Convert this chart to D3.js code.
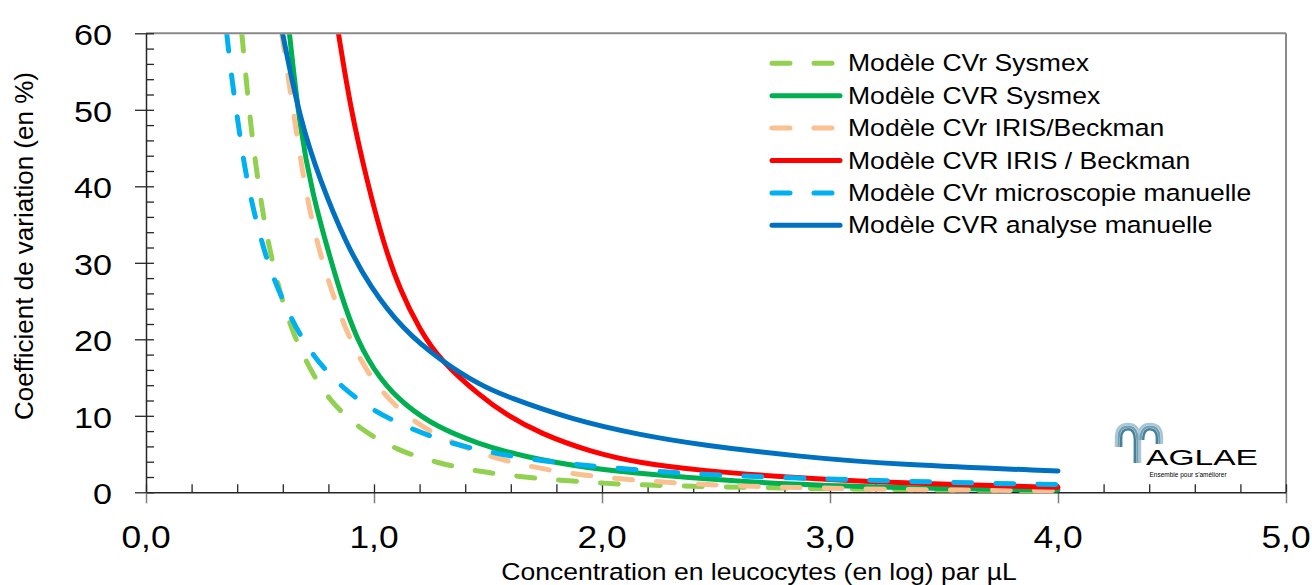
<!DOCTYPE html>
<html>
<head>
<meta charset="utf-8">
<script src="https://cdn.jsdelivr.net/npm/d3@7"></script>
<style>
  body { margin: 0; background: #fff; }
  text { font-family: "Liberation Sans", Arial, sans-serif; fill: #000; }
</style>
</head>
<body>
<div id="chart"></div>
<script>
// Chart size
const width = 1312;
const height = 585;

// Values: [log concentration, CV %]
const cvrSysmex = [[0.42,60],[0.439,54.1],[0.458,48.4],[0.481,42.9],[0.507,37.5],[0.539,32.1],[0.588,26],[0.639,21.2],[0.712,16.4],[0.807,11.8],[0.946,8.1],[1.10,5.5],[1.282,3.8],[1.457,2.7],[1.64,2.04],[1.822,1.57],[2.005,1.17],[2.188,0.95],[2.5,0.7],[3.0,0.45],[3.5,0.3],[4.0,0.2]];
const cvRSysmex = [[0.629,60],[0.675,47.4],[0.734,38.6],[0.792,32.3],[0.851,26.2],[0.924,19.9],[1.026,14.7],[1.143,11.2],[1.274,8.6],[1.45,6.4],[1.655,4.65],[1.947,3.1],[2.24,2.26],[2.518,1.6],[2.8,1.1],[3.16,0.7],[3.6,0.45],[4.0,0.3]];
const cvrIris = [[0.595,60],[0.62,55],[0.643,50.4],[0.670,45.0],[0.700,39.6],[0.737,34.2],[0.785,29.0],[0.844,23.7],[0.915,18.6],[1.009,13.9],[1.136,10.0],[1.282,7.3],[1.457,5.1],[1.64,3.65],[1.822,2.6],[2.005,1.95],[2.188,1.48],[2.371,1.17],[2.56,0.85],[3.0,0.5],[3.5,0.3],[4.0,0.2]];
const cvRIris = [[0.844,60],[0.895,50.5],[0.968,40.8],[1.041,32.6],[1.114,26.4],[1.202,21.2],[1.289,17.3],[1.465,12.6],[1.582,10.1],[1.728,7.7],[1.947,5.3],[2.167,3.8],[2.43,2.85],[2.8,2.0],[3.16,1.4],[3.6,0.95],[4.0,0.65]];
const cvrMicro = [[0.354,60],[0.376,54.1],[0.402,48.7],[0.428,43.2],[0.464,37.8],[0.504,33.1],[0.544,29.1],[0.624,23.4],[0.712,18.6],[0.829,14.5],[0.975,11.0],[1.136,8.6],[1.311,6.6],[1.494,5.3],[1.677,4.35],[1.86,3.7],[2.04,3.2],[2.225,2.75],[2.408,2.4],[2.8,1.9],[3.15,1.6],[3.5,1.3],[4.0,1.0]];
const cvRManuel = [[0.599,60],[0.675,48.7],[0.763,40.8],[0.876,32.6],[0.982,26.9],[1.129,21.2],[1.289,17.3],[1.465,14.0],[1.582,12.5],[1.874,9.45],[2.167,7.5],[2.43,6.2],[2.868,4.65],[3.307,3.57],[4.0,2.8]];

const seriesNames = [
  "Modèle CVr Sysmex",
  "Modèle CVR Sysmex",
  "Modèle CVr IRIS/Beckman",
  "Modèle CVR IRIS / Beckman",
  "Modèle CVr microscopie manuelle",
  "Modèle CVR analyse manuelle"
];
const seriesData = [cvrSysmex, cvRSysmex, cvrIris, cvRIris, cvrMicro, cvRManuel];

// Tick values
const xTicks = [0, 1, 2, 3, 4, 5];
const yTicks = [0, 10, 20, 30, 40, 50, 60];

// Styles
const colors = ["#92D050", "#00B050", "#FAC090", "#FF0000", "#00B0F0", "#0070C0"];
const dashed = [true, false, true, false, true, false];
const stretch = 1.14;

const x0 = 146, x1 = 1286, yTop = 33.3, yBottom = 492.3;

const svg = d3.select("#chart")
  .append("svg")
  .attr("width", width)
  .attr("height", height)
  .style("background", "#fff");

const x = d3.scaleLinear().domain([0, 5]).range([x0, x1]);
const y = d3.scaleLinear().domain([0, 60]).range([yBottom, yTop]);

// Stretched text helper (the source text is wider than the font)
function label(g, px, py, str, size, anchor) {
  return g.append("g")
    .attr("transform", `translate(${px},${py}) scale(${stretch},1)`)
    .append("text")
    .attr("font-size", size)
    .attr("text-anchor", anchor)
    .text(str);
}

// Border on top and right
svg.append("line").attr("x1", x0).attr("x2", x1).attr("y1", yTop).attr("y2", yTop)
  .attr("stroke", "#8a8a8a").attr("stroke-width", 2);
svg.append("line").attr("x1", x1).attr("x2", x1).attr("y1", yTop).attr("y2", yBottom)
  .attr("stroke", "#8a8a8a").attr("stroke-width", 2);

// Y axis: major ticks outside, minor inside
const yMajor = svg.append("g").attr("transform", `translate(${x0},0)`)
  .call(d3.axisLeft(y).tickValues(yTicks).tickSize(11).tickSizeOuter(0).tickFormat(""));
const yMinor = svg.append("g").attr("transform", `translate(${x0},0)`)
  .call(d3.axisRight(y).tickValues(d3.range(0, 61, 2)).tickSize(8).tickSizeOuter(0).tickFormat(""));
yMinor.select(".domain").remove();

// X axis: major ticks below, minor above
const xMajor = svg.append("g").attr("transform", `translate(0,${yBottom})`)
  .call(d3.axisBottom(x).tickValues(xTicks).tickSize(11).tickSizeOuter(0).tickFormat(""));
xMajor.select(".domain").remove();
xMajor.selectAll(".tick line").attr("stroke", "#7f7f7f").attr("stroke-width", 1.5);
const xMinor = svg.append("g").attr("transform", `translate(0,${yBottom})`)
  .call(d3.axisTop(x).tickValues(d3.range(0, 5.01, 0.2)).tickSize(8).tickSizeOuter(0).tickFormat(""));

[yMajor, yMinor, xMinor].forEach(g => g.selectAll(".tick line").attr("stroke", "#262626").attr("stroke-width", 1.3));
yMajor.select(".domain").attr("stroke", "#262626").attr("stroke-width", 1.5);
xMinor.select(".domain").attr("stroke", "#262626").attr("stroke-width", 1.5);

// Tick labels
const labels = svg.append("g");
yTicks.forEach(v => label(labels, 112, y(v) + 12, String(v), 30, "end"));
xTicks.forEach(v => label(labels, x(v), 548, d3.format(".1f")(v).replace(".", ","), 31, "middle"));

// Axis titles
label(labels, 759, 580, "Concentration en leucocytes (en log) par µL", 23.3, "middle");
svg.append("text")
  .attr("transform", `translate(33,246) rotate(-90)`)
  .attr("font-size", 26)
  .attr("text-anchor", "middle")
  .text("Coefficient de variation (en %)");

// Logo (arches + name)
const logo = svg.append("g");
["#a9c6d3", "#6f9fb5", "#46819b"].forEach((c, i) => {
  const o = i * 2.6;
  logo.append("path")
    .attr("d", `M${1116 + o},447 L${1116 + o},438 Q${1116 + o},${424 + o} 1128,${424 + o} Q${1140 - o},${424 + o} ${1140 - o},440 L${1140 - o},463 M${1138 + o},440 Q${1138 + o},${424 + o} 1150,${424 + o} Q${1162 - o},${424 + o} ${1162 - o},438 L${1162 - o},444`)
    .attr("fill", "none").attr("stroke", c).attr("stroke-width", 2.4);
});
logo.append("text")
  .attr("x", 1146).attr("y", 465)
  .attr("font-size", 22)
  .attr("textLength", 112)
  .attr("lengthAdjust", "spacingAndGlyphs")
  .attr("fill", "#45545f")
  .text("AGLAE");
logo.append("text").attr("x", 1188).attr("y", 477).attr("font-size", 6.5)
  .attr("text-anchor", "middle").attr("fill", "#333").text("Ensemble pour s'améliorer");

// Clip for the curves
svg.append("clipPath").attr("id", "plot-clip")
  .append("rect").attr("x", x0).attr("y", yTop + 1).attr("width", x1 - x0).attr("height", height - yTop);

// Smooth curve through the read points
const line = d3.line()
  .x(d => x(d[0]))
  .y(d => y(d[1]))
  .curve(d3.curveBasis);

// Curves in legend order
svg.append("g").attr("clip-path", "url(#plot-clip)")
  .selectAll("path")
  .data(seriesData)
  .join("path")
  .attr("d", d => line(d))
  .attr("fill", "none")
  .attr("stroke", (d, i) => colors[i])
  .attr("stroke-width", 5)
  .attr("stroke-linecap", "round")
  .attr("stroke-dasharray", (d, i) => dashed[i] ? "18 24" : null);

// Legend
const legend = svg.selectAll(".legend")
  .data(seriesNames)
  .join("g")
  .attr("class", "legend")
  .attr("transform", (d, i) => `translate(772, ${63.3 + i * 32.4})`);

legend.append("line")
  .attr("x1", 0).attr("x2", 68)
  .attr("stroke", (d, i) => colors[i])
  .attr("stroke-width", 5)
  .attr("stroke-linecap", "round")
  .attr("stroke-dasharray", (d, i) => dashed[i] ? "18 24" : null);

legend.each(function(d) {
  label(d3.select(this), 76, 8, d, 23.3, "start");
});
</script>
</body>
</html>
